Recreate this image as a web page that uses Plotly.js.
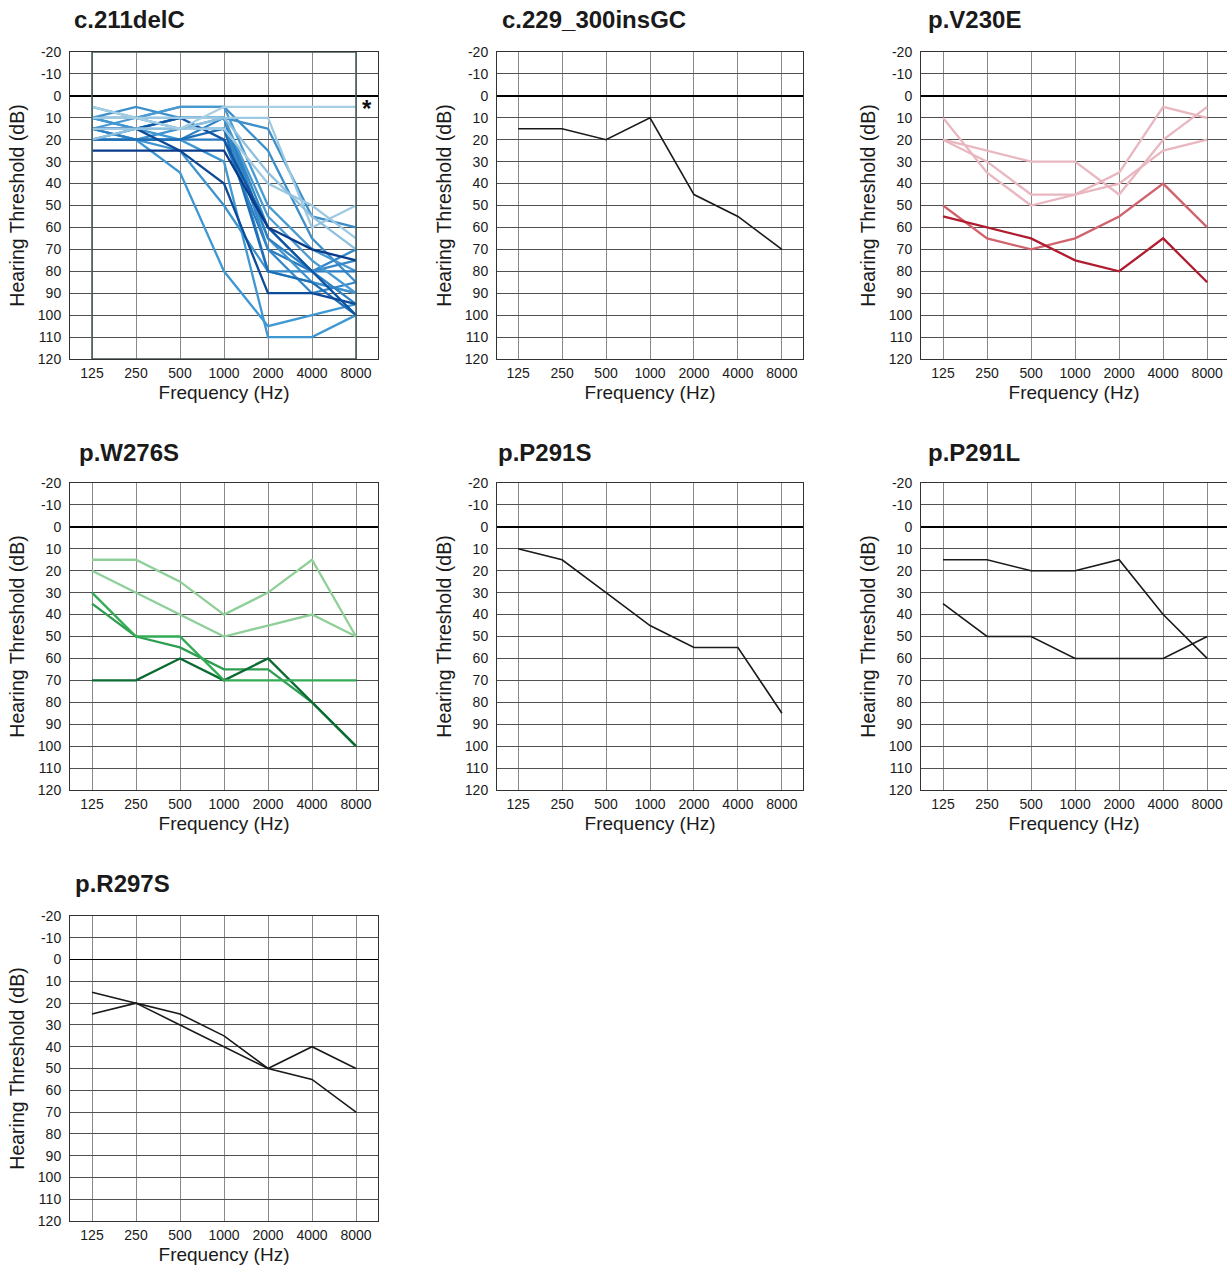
<!DOCTYPE html>
<html><head><meta charset="utf-8">
<script src="https://cdn.plot.ly/plotly-3.0.1.min.js"></script>
<style>html,body{margin:0;padding:0;background:#fff;} #chart{width:1227px;height:1268px;}</style>
</head><body><div id="chart"></div>
<script>
const frequencies = ["125","250","500","1000","2000","4000","8000"];
const thresholdTicks = [-20,-10,0,10,20,30,40,50,60,70,80,90,100,110,120];
const panelTitles = ["c.211delC","c.229_300insGC","p.V230E","p.W276S","p.P291S","p.P291L","p.R297S"];

// Panel 1: c.211delC
const c211delC = [
  [10,5,10,10,15,55,60],
  [10,10,5,5,25,65,85],
  [15,10,5,5,50,70,80],
  [10,15,10,10,60,80,70],
  [20,20,20,20,70,80,80],
  [15,20,15,15,65,85,90],
  [20,20,25,50,80,85,90],
  [15,20,35,80,105,100,95],
  [10,15,20,30,110,110,100],
  [20,15,10,10,80,80,75],
  [10,10,15,10,70,90,85],
  [15,20,20,10,65,80,95],
  [5,10,10,10,55,75,90],
  [20,20,20,15,80,85,100],
  [15,15,10,20,60,80,100],
  [15,15,25,40,90,90,95],
  [25,25,25,25,60,70,75],
  [10,10,10,10,10,60,50],
  [15,15,15,15,40,50,65],
  [20,15,15,10,35,55,70],
  [5,10,15,5,5,5,5]
];
const c211delCColors = [
  "#3d8fca","#3d8fca","#4a9ad2","#3588c7","#2a7bc1","#3f94ce","#3f94ce",
  "#3f98d2","#3f98d2","#3588c7","#3588c7","#2e82c4","#4a9ad2","#1f6db5",
  "#0f55a3","#0d4b9a","#083b8a","#9dc9e2","#9dc9e2","#8fc1de","#a6cfe3"
];
// Panel 2: c.229_300insGC
const c229ins = [[15,15,20,10,45,55,70]];
const c229insColors = ["#1a1a1a"];
// Panel 3: p.V230E
const pV230E = [
  [10,35,50,45,40,25,20],
  [20,25,30,30,45,20,5],
  [20,30,45,45,35,5,10],
  [50,65,70,65,55,40,60],
  [55,60,65,75,80,65,85]
];
const pV230EColors = ["#e9b7c0","#e9b7c0","#e9b7c0","#d0646e","#b01c30"];
// Panel 4: p.W276S
const pW276S = [
  [15,15,25,40,30,15,50],
  [20,30,40,50,45,40,50],
  [35,50,55,65,65,80,100],
  [70,70,60,70,60,80,100],
  [30,50,50,70,70,70,70]
];
const pW276SColors = ["#8fcf98","#8fcf98","#2e9e52","#0b6b33","#33ab55"];
// Panel 5: p.P291S
const pP291S = [[10,15,30,45,55,55,85]];
const pP291SColors = ["#1a1a1a"];
// Panel 6: p.P291L
const pP291L = [
  [15,15,20,20,15,40,60],
  [35,50,50,60,60,60,50]
];
const pP291LColors = ["#1a1a1a","#1a1a1a"];
// Panel 7: p.R297S
const pR297S = [
  [15,20,30,40,50,55,70],
  [25,20,25,35,50,40,50]
];
const pR297SColors = ["#1a1a1a","#1a1a1a"];

const panels = [
  {series: c211delC, colors: c211delCColors, width: 2.3},
  {series: c229ins, colors: c229insColors, width: 1.6},
  {series: pV230E, colors: pV230EColors, width: 2.3},
  {series: pW276S, colors: pW276SColors, width: 2.3},
  {series: pP291S, colors: pP291SColors, width: 1.6},
  {series: pP291L, colors: pP291LColors, width: 1.6},
  {series: pR297S, colors: pR297SColors, width: 1.6}
];

const W = 1227, H = 1268;
const colPx = [[70,378],[497,803],[921,1227]];
const colRange = [[-0.5,6.5],[-0.48,6.48],[-0.5,6.45]];
const rowPx = [[52,359],[483,790],[916,1221]];
const titlePos = [[72,19],[500,19],[926,19],[77,452],[496,452],[926,452],[73,883]];

const FONT = "Liberation Sans, Arial, sans-serif";
const traces = [];
const layout = {
  width: W, height: H,
  margin: {l:0, r:0, t:0, b:0},
  paper_bgcolor: "#ffffff", plot_bgcolor: "#ffffff",
  showlegend: false,
  font: {family: FONT, color: "#1a1a1a"},
  annotations: [], shapes: []
};

panels.forEach((p, i) => {
  const col = i % 3, row = Math.floor(i / 3);
  const n = i + 1;
  const xa = n === 1 ? "x" : "x" + n;
  const ya = n === 1 ? "y" : "y" + n;
  p.series.forEach((vals, k) => {
    traces.push({
      type: "scatter", mode: "lines",
      x: frequencies, y: vals,
      xaxis: xa, yaxis: ya,
      line: {color: p.colors[k], width: p.width},
      hoverinfo: "skip"
    });
  });
  layout["xaxis" + (n === 1 ? "" : n)] = {
    domain: [colPx[col][0] / W, colPx[col][1] / W],
    anchor: ya,
    type: "category",
    range: colRange[col],
    showgrid: true, gridcolor: "#8a8a8a", gridwidth: 1,
    showline: true, mirror: true, linecolor: "#333", linewidth: 1,
    ticks: "", ticklabelstandoff: 1,
    tickfont: {size: 14, color: "#1a1a1a", family: FONT},
    title: {text: "Frequency (Hz)", font: {size: 19, color: "#1a1a1a", family: FONT}, standoff: 5},
    fixedrange: true, zeroline: false
  };
  layout["yaxis" + (n === 1 ? "" : n)] = {
    domain: [1 - rowPx[row][1] / H, 1 - rowPx[row][0] / H],
    anchor: xa,
    range: [120, -20],
    tickmode: "array", tickvals: thresholdTicks, ticktext: thresholdTicks.map(String),
    showgrid: true, gridcolor: "#505050", gridwidth: 1,
    zeroline: true, zerolinecolor: "#000", zerolinewidth: 1.5,
    showline: true, mirror: true, linecolor: "#333", linewidth: 1,
    ticks: "", ticklabelstandoff: 5,
    tickfont: {size: 14, color: "#1a1a1a", family: FONT},
    title: {text: "Hearing Threshold (dB)", font: {size: 19.5, color: "#1a1a1a", family: FONT}, standoff: 8},
    fixedrange: true
  };
  layout.annotations.push({
    text: "<b>" + panelTitles[i] + "</b>",
    xref: "paper", yref: "paper",
    x: titlePos[i][0] / W, y: 1 - titlePos[i][1] / H,
    xanchor: "left", yanchor: "middle",
    showarrow: false,
    font: {size: 24, color: "#1a1a1a", family: FONT}
  });
});

// star marker next to the normal-hearing line in panel 1
layout.annotations.push({
  text: "<b>*</b>", xref: "paper", yref: "paper",
  x: 367 / W, y: 1 - 108 / H, xanchor: "center", yanchor: "middle",
  showarrow: false, font: {size: 24, color: "#111", family: FONT}
});
// dark frame around the measured range in panel 1
layout.shapes.push({
  type: "rect", xref: "x", yref: "y", x0: 0, x1: 6, y0: -20, y1: 120,
  line: {color: "#3e5a55", width: 1.5}, fillcolor: "rgba(0,0,0,0)", layer: "above"
});

Plotly.newPlot("chart", traces, layout, {staticPlot: true, displayModeBar: false});
</script>
</body></html>
